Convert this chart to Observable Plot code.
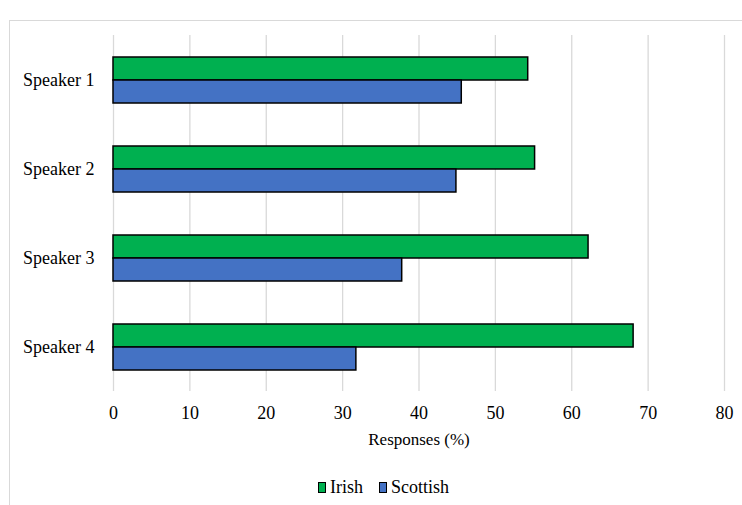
<!DOCTYPE html>
<html>
<head>
<meta charset="utf-8">
<script src="https://cdn.jsdelivr.net/npm/d3@7"></script>
<script src="https://cdn.jsdelivr.net/npm/@observablehq/plot@0.6"></script>
<style>
  html, body { margin: 0; padding: 0; background: #fff; width: 742px; height: 505px; overflow: hidden; }
  #frame { position: absolute; left: 9px; top: 20px; width: 800px; height: 600px; border: 1px solid #d9d9d9; box-sizing: border-box; }
  #chart { position: absolute; left: 0; top: 0; }
  #chart g[aria-label="x-axis label"] text { font-size: 17px; }
  #legend { position: absolute; left: 318px; top: 476px; font-family: "Liberation Serif", serif; font-size: 18px; line-height: 22px; color: #000; display: flex; align-items: center; white-space: nowrap; }
  .item { display: flex; align-items: center; margin-right: 16px; }
  .sw { display: inline-block; width: 8px; height: 11px; border: 1px solid #000; box-sizing: border-box; margin-right: 4px; margin-top: 1px; }
</style>
</head>
<body>
<div id="frame"></div>
<div id="chart"></div>
<div id="legend"></div>
<script>
const speakers = ["Speaker 1", "Speaker 2", "Speaker 3", "Speaker 4"];
const seriesNames = ["Irish", "Scottish"];
const irish = [54.3, 55.2, 62.2, 68.1];
const scottish = [45.6, 44.9, 37.8, 31.8];
const xTicks = [0, 10, 20, 30, 40, 50, 60, 70, 80];
const colors = ["#00b050", "#4472c4"];

const rows = [];
speakers.forEach((s, i) => {
  rows.push({speaker: s, series: "Irish", value: irish[i]});
  rows.push({speaker: s, series: "Scottish", value: scottish[i]});
});

const chart = Plot.plot({
  width: 742,
  height: 460,
  marginTop: 33,
  marginBottom: 68,
  marginLeft: 113,
  marginRight: 18,
  style: {fontFamily: "'Liberation Serif', serif", fontSize: "18px", color: "#000", background: "transparent"},
  x: {domain: [0, 80], ticks: xTicks, tickSize: 0, tickPadding: 15, label: "Responses (%)", labelAnchor: "center", labelArrow: "none", labelOffset: 53, grid: false},
  y: {domain: seriesNames, axis: null, paddingInner: 0, paddingOuter: 0.9},
  fy: {domain: speakers, padding: 0, label: null, tickSize: 0, tickPadding: 19},
  color: {domain: seriesNames, range: colors},
  marks: [
    Plot.gridX(xTicks, {stroke: "#d9d9d9", strokeOpacity: 1, strokeWidth: 1.3}),
    Plot.barX(rows, {x: "value", y: "series", fy: "speaker", fill: "series", stroke: "#000", strokeWidth: 1.5, inset: 0})
  ]
});
document.getElementById("chart").appendChild(chart);

const legend = document.getElementById("legend");
seriesNames.forEach((name, i) => {
  const item = document.createElement("span");
  item.className = "item";
  const sw = document.createElement("span");
  sw.className = "sw";
  sw.style.background = colors[i];
  item.appendChild(sw);
  item.appendChild(document.createTextNode(name));
  legend.appendChild(item);
});
</script>
</body>
</html>
